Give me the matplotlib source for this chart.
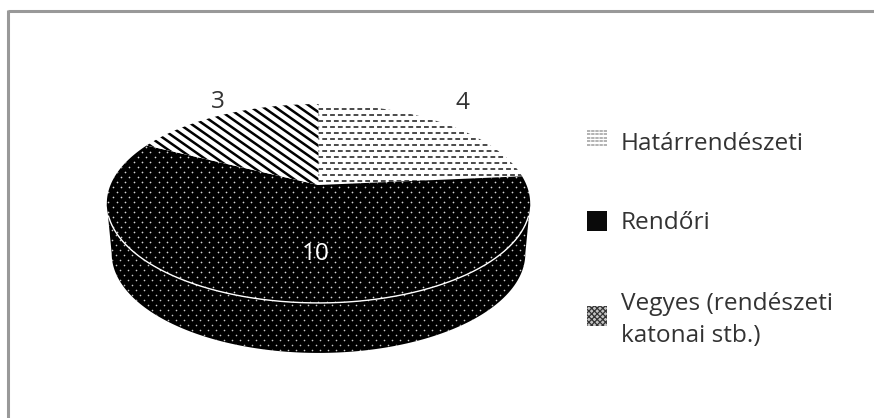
import numpy as np
import matplotlib
matplotlib.use("Agg")
import matplotlib.pyplot as plt
from matplotlib.patches import Polygon, Rectangle

# Data
categories = ["Határrendészeti", "Rendőri", "Vegyes (rendészeti\nkatonai stb.)"]
values = [4, 10, 3]
value_labels = ["4", "10", "3"]

W, H = 874, 418
INK = "#333333"
plt.rcParams["font.family"] = ["Open Sans", "DejaVu Sans"]
plt.rcParams["hatch.linewidth"] = 0.9

fig = plt.figure(figsize=(W / 100, H / 100), dpi=100, facecolor="white")
ax = fig.add_axes([0, 0, 1, 1])
ax.set_xlim(0, W)
ax.set_ylim(H, 0)
ax.axis("off")

# Perspective view of the pie disc
APEX_X, APEX_Y = 318.5, 185.0
A, B, K = 208.0, 96.0, 0.186
DEPTH = 50.0


def project(angle_deg):
    """Map a clockwise-from-top pie angle to canvas pixels."""
    t = np.radians(angle_deg)
    u, v = np.sin(t), np.cos(t)
    d = 1 + K * v
    return APEX_X + A * u / d, APEX_Y - B * v / d


def wedge_xy(a0, a1):
    th = np.linspace(a0, a1, 160)
    x, y = project(th)
    return np.column_stack([np.r_[APEX_X, x], np.r_[APEX_Y, y]])


def dashed_rows(clip, ys, color, lw, dash, shift):
    for i, y in enumerate(ys):
        off = shift if i % 2 else 0
        ln, = ax.plot([60 + off, 600], [y, y], color=color, lw=lw,
                      dashes=dash, dash_capstyle="butt", zorder=3)
        ln.set_clip_path(clip)


def dot_field(clip, x0, x1, y0, y1, dx, dy, size, alpha):
    rows = np.arange(y0, y1, dy)
    xs, ys = [], []
    for i, y in enumerate(rows):
        col = np.arange(x0 + (dx / 2 if i % 2 else 0), x1, dx)
        xs.append(col)
        ys.append(np.full(col.shape, y))
    sc = ax.scatter(np.concatenate(xs), np.concatenate(ys), s=size, c="white",
                    linewidths=0, alpha=alpha, zorder=3)
    sc.set_clip_path(clip)


# Slice angle ranges follow the values, clockwise from 12 o'clock
bounds = np.r_[0, np.cumsum(values)] / np.sum(values) * 360

# Side wall of the disc, between the widest points of the top outline
rim_th = np.linspace(100.7, 259.3, 200)
rx, ry = project(rim_th)
lo_x = APEX_X + (rx - APEX_X) * 0.977
lo_y = ry + DEPTH
side_xy = np.column_stack([np.r_[rx, lo_x[::-1]], np.r_[ry, lo_y[::-1]]])
side = Polygon(side_xy, closed=True, fc="black", ec="none", zorder=1)
ax.add_patch(side)
dot_field(side, 100, 540, 215, 360, 8.0, 5.0, 1.4, 0.8)

# Top surface wedges
patches = []
for i in range(3):
    xy = wedge_xy(bounds[i], bounds[i + 1])
    p = Polygon(xy, closed=True, fc="black" if i == 1 else "white", ec="none", zorder=2)
    ax.add_patch(p)
    patches.append(p)

# Dashed rows on the first wedge
dashed_rows(patches[0], np.arange(108.5, 190, 6.0), "#222222", 1.15, (3.0, 1.9), 4.0)

# White dots on the second wedge
dot_field(patches[1], 100, 540, 142, 310, 8.4, 5.0, 1.5, 0.85)

# Diagonal stripes on the third wedge
for c in np.arange(-320, 240, 12.0):
    xs = np.array([100.0, 340.0])
    ln, = ax.plot(xs, 0.70 * (xs - APEX_X + c) + APEX_Y, color="black", lw=1.8,
                  solid_capstyle="butt", zorder=3)
    ln.set_clip_path(patches[2])

# Thin white rim along the front edge of the top surface
fx, fy = project(np.linspace(108, 252, 200))
ax.plot(fx, fy, color="white", lw=1.0, zorder=4)

# Value labels
FS = 17.6
label_pos = [(462.5, 109), (316, 260), (218, 108)]
for txt, (x, y), col in zip(value_labels, label_pos, [INK, "white", INK]):
    ax.text(x, y, txt, ha="center", va="baseline", fontsize=FS, color=col, zorder=5)

# Legend swatches
SW_X, SW = 587, 20
swatch_y = [130, 211, 306]
for y in np.arange(swatch_y[0] + 1, swatch_y[0] + 18, 3.4):
    ax.plot([SW_X, SW_X + SW], [y, y], color="#a6a6a6", lw=1.2, dashes=(2.0, 0.5),
            dash_capstyle="butt", zorder=3)
ax.add_patch(Rectangle((SW_X, swatch_y[1]), SW, SW, fc="#0a0a0a", ec="none", zorder=2))
ax.add_patch(Rectangle((SW_X, swatch_y[2]), SW, SW, fc="#c4c4c4", ec="#333333",
                       hatch="xxxxxx", lw=0, zorder=2))

# Legend entries, one baseline per line of text
entry_baselines = [[150], [229], [310, 342]]
for cat, bases in zip(categories, entry_baselines):
    for line, base in zip(cat.split("\n"), bases):
        ax.text(621, base, line, va="baseline", ha="left", fontsize=FS, color=INK)

# Frame lines along the top and left
ax.plot([7.5, W], [10.5, 10.5], color="#999999", lw=2.2, solid_capstyle="butt", zorder=6)
ax.plot([7.5, 7.5], [9.5, H], color="#999999", lw=2.2, solid_capstyle="butt", zorder=6)

fig.savefig("out.png", dpi=100, facecolor="white")
